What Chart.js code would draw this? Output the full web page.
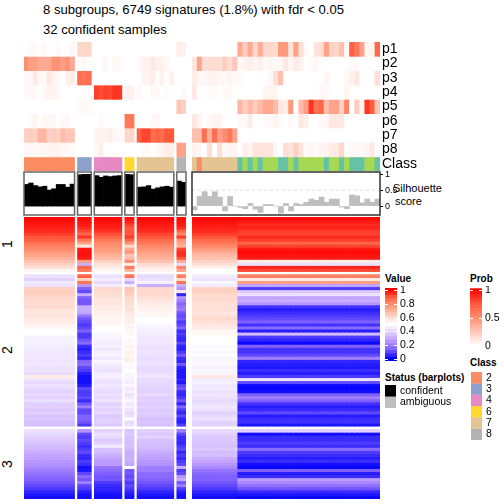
<!DOCTYPE html>
<html>
<head>
<meta charset="utf-8">
<script src="https://cdn.jsdelivr.net/npm/chart.js@4"></script>
<style>
  html, body { margin: 0; padding: 0; background: #fff; }
  body { width: 504px; height: 504px; position: relative; overflow: hidden; font-family: "Liberation Sans", sans-serif; color: #000; }
  canvas { position: absolute; }
  .txt { position: absolute; white-space: nowrap; line-height: 1; }
  .b { font-weight: bold; font-size: 10px; }
</style>
</head>
<body>
<div class="txt" style="left:43px;top:3px;font-size:13.1px">8 subgroups, 6749 signatures (1.8%) with fdr &lt; 0.05</div>
<div class="txt" style="left:43px;top:23px;font-size:13.1px">32 confident samples</div>
<div class="txt" style="left:393px;top:183px;font-size:11px">Silhouette</div>
<div class="txt" style="left:395px;top:196px;font-size:11px">score</div>
<div class="txt" style="left:3px;top:237px;font-size:14px;transform:rotate(-90deg)">1</div>
<div class="txt" style="left:3px;top:343px;font-size:14px;transform:rotate(-90deg)">2</div>
<div class="txt" style="left:3px;top:457px;font-size:14px;transform:rotate(-90deg)">3</div>
<div class="txt b" style="left:385px;top:274px">Value</div>
<div class="txt b" style="left:470px;top:274px">Prob</div>
<div class="txt b" style="left:470px;top:358px">Class</div>
<div class="txt b" style="left:385px;top:373px">Status (barplots)</div>
<script>
const rowLabels = ['p1','p2','p3','p4','p5','p6','p7','p8','Class'];

// confident samples, 32 columns
const confClass = [2,2,2,2,2,2,2,2,2,2,2, 3,3,3, 4,4,4,4,4,4, 6,6, 7,7,7,7,7,7,7,7, 8,8];
const p1Conf = [0,.03,.03,0,.03,0,0,.03,0,0,.03, .18,.18,.18, 0,0,0,0,0,0, 0,0, 0,0,0,0,0,0,0,0, .08,.06];
const p2Conf = [.5,.42,.42,.38,.38,.38,.48,.48,.42,.48,.38, 0,.03,0, 0,0,.04,0,.03,.03, 0,0, .03,.06,.06,.1,.06,.06,.03,0, 0,0];
const p3Conf = [.02,.03,.1,.02,.03,.1,.05,.03,0,.06,.08, .65,.62,.65, 0,0,0,0,0,0, 0,0, 0,.05,.05,.08,0,.06,0,.06, 0,0];
const p4Conf = [.02,.03,.03,0,.03,.05,.05,.03,0,0,0, 0,0,0, .82,.78,.82,.8,.85,.85, .06,.06, .02,0,0,.02,.02,0,.02,0, 0,.03];
const p5Conf = [0,0,0,0,0,0,0,0,0,0,0, .02,.02,.02, 0,0,0,0,0,0, 0,0, 0,0,0,0,0,0,0,0, .25,.2];
const p6Conf = [0,.02,.05,0,.03,.03,.03,0,.03,.03,0, 0,0,0, 0,.03,0,0,0,0, .6,.6, .02,0,0,.03,.03,0,0,0, 0,0];
const p7Conf = [.2,.22,.2,.32,.32,.2,.22,.2,.3,.25,.25, 0,0,0, .05,.05,.05,.08,.03,.03, .18,.18, .72,.8,.8,.65,.7,.65,.75,.75, 0,0];
const p8Conf = [.02,.03,.03,.03,.03,.05,.05,.05,.03,.03,.02, 0,0,0, .02,.08,0,0,0,0, 0,0, 0,.02,.02,0,.03,.05,.07,.07, .42,.4];
const silConf = [.675,.72,.64,.6,.62,.5,.54,.675,.675,.59,.685, .98,.99,.99, .95,.9,.94,.92,.94,.95, .99,.98, .59,.6,.64,.53,.57,.6,.62,.59, .78,.74];

// ambiguous samples, 37 columns (9 + 28)
const ambClass = [7,2,7,7,7,7,7,7,7, 1,5,1,5,1,5,5,5,1,1,5,1,5,5,5,5,5,1,5,5,1,5,1,1,1,5,5,1];
const p1Amb = [0,0,0,0,0,0,0,0,0, .38,.22,.38,.18,.36,.18,.18,.16,.45,.45,.12,.42,.14,.02,0,.12,.15,.42,.2,.18,.28,.03,.72,.6,.42,.04,.04,.68];
const p2Amb = [.1,.4,.15,.15,.15,.15,.22,.15,.24, .02,.05,.08,.05,.07,.02,.04,.03,.03,.1,.03,.09,.06,0,.03,.03,0,0,0,0,0,0,.02,.02,0,0,0,0];
const p3Amb = [.08,.03,.03,.05,.05,.03,.03,.05,.02, .02,0,0,0,0,0,.03,.14,.28,0,0,0,0,0,0,0,0,.04,0,0,0,.03,.06,.1,0,0,0,.14];
const p4Amb = [.1,0,0,.02,.02,0,.02,.02,0, 0,0,0,0,0,.04,.05,.04,0,0,0,0,0,0,0,0,.02,.03,0,0,0,.04,0,0,0,0,0,0];
const p5Amb = [0,0,0,0,0,0,0,0,0, .32,.22,.3,.22,.3,.38,.38,.3,.1,.08,.45,0,.3,.42,.85,.62,.68,.28,.4,.4,.2,.55,0,.22,.05,.85,.72,.25];
const p6Amb = [.1,.05,0,.03,.05,.05,0,0,0, .03,.02,.08,0,0,.02,.02,.05,.02,0,.03,0,.1,.07,0,0,.03,.03,.1,.1,.1,0,0,0,0,0,0,0];
const p7Amb = [.28,.28,.65,.35,.65,.42,.5,.6,.4, 0,0,0,0,0,0,0,0,0,0,0,0,0,0,0,0,0,0,0,0,0,0,0,0,0,0,0,0];
const p8Amb = [.06,.03,0,.15,0,.15,.02,.05,.05, 0,.08,.05,.12,.12,.12,.12,.03,0,.15,.12,.2,.12,.02,.05,.02,.04,.05,.08,.1,.17,.01,.03,.03,.03,.04,.1,0];
const silAmb = [-.12,.3,.45,.3,.45,.28,-.15,.3,0, -.04,-.08,.08,-.1,-.2,.05,.05,0,-.22,.08,-.15,.08,.05,.12,.22,.18,.28,.12,.22,.22,-.03,-.08,.35,.32,.1,.22,.12,.22];

const classColors = {1:'#66C2A5',2:'#FC8D62',3:'#8DA0CB',4:'#E78AC3',5:'#A6D854',6:'#FFD92F',7:'#E5C494',8:'#B3B3B3'};
const classLegend = [2,3,4,6,7,8];
const statusLegend = ['confident','ambiguous'];
const statusColors = ['#000000','#BEBEBE'];
const valueTicks = [0,.2,.4,.6,.8,1];
const probTicks = [0,.5,1];
const silTicks = [0,.5,1];
const legendLevels = [0,.05,.1,.15,.2,.25,.3,.35,.4,.45,.5,.55,.6,.65,.7,.75,.8,.85,.9,.95,1];

// heatmap: estimated rows per sample block, split in 3 row slices (18, 50, 23 rows)
const sliceRows = [18,50,23];
const heat2 = [.99,.98,.97,.96,.95,.93,.9,.89,.85,.82,.8,.76,.74,.7,.66,.62,.58,.52,
  .42,.38,.44,.42,.62,.63,.62,.6,.6,.58,
  .6,.57,.56,.57,.55,.55,.53,.52,.5,.5,
  .46,.47,.46,.45,.45,.44,.43,.44,.43,.44,
  .42,.42,.41,.55,.43,.4,.42,.4,.38,.4,
  .38,.42,.37,.38,.36,.38,.35,.36,.34,.34,
  .42,.4,.38,.36,.35,.33,.32,.3,.28,.27,.25,.24,.22,.2,.18,.16,.14,.12,.1,.08,.05,.03,.02];
const heat3 = [.99,.98,.97,.95,.92,.88,.94,.84,.74,.55,.97,.98,.98,.97,.75,.3,.88,.84,
  .88,.62,.85,.25,.14,.1,.3,.14,.12,.12,
  .3,.3,.28,.18,.12,.1,.08,.1,.14,.08,
  .08,.12,.16,.06,.04,.06,.08,.05,.14,.16,
  .1,.08,.04,.02,.02,.02,.04,.1,.08,.08,
  .1,.06,.12,.2,.1,.1,.14,.14,.12,.08,
  .25,.1,.08,.1,.08,.06,.08,.1,.06,.05,.08,.06,.02,.03,.1,.16,.12,.2,.1,.08,.04,.02,.02];
const heat4 = [.99,.98,.97,.96,.94,.91,.88,.84,.8,.78,.76,.74,.7,.68,.62,.58,.55,.52,
  .42,.45,.4,.45,.6,.6,.58,.58,.56,.57,
  .55,.55,.54,.53,.52,.53,.52,.5,.5,.48,
  .47,.46,.45,.46,.44,.46,.47,.44,.48,.45,
  .44,.42,.45,.46,.43,.42,.44,.42,.4,.42,
  .4,.43,.38,.4,.38,.4,.36,.37,.38,.36,
  .38,.42,.4,.36,.38,.45,.34,.33,.3,.28,.26,.26,.18,.16,.14,.12,.12,.08,.06,.05,.04,.02,.02];
const heat6 = [.98,.96,.93,.9,.9,.9,.93,.88,.78,.6,.72,.78,.65,.68,.8,.55,.84,.7,
  .85,.4,.3,.45,.65,.64,.62,.6,.6,.58,
  .57,.58,.56,.55,.54,.55,.52,.53,.52,.52,
  .5,.52,.51,.53,.52,.54,.52,.54,.53,.5,
  .48,.5,.48,.47,.46,.45,.48,.44,.46,.42,
  .45,.48,.44,.46,.43,.4,.42,.5,.4,.42,
  .35,.36,.34,.34,.33,.34,.32,.3,.3,.3,.3,.28,.5,.12,.12,.1,.12,.08,.1,.08,.05,.03,.02];
const heat7 = [.99,.98,.97,.96,.95,.92,.9,.87,.84,.8,.78,.75,.72,.7,.66,.6,.56,.53,
  .4,.42,.46,.3,.6,.6,.6,.58,.56,.55,
  .54,.53,.52,.52,.5,.5,.48,.46,.46,.45,
  .44,.44,.43,.42,.42,.43,.42,.41,.42,.42,
  .4,.4,.41,.43,.4,.4,.39,.38,.38,.4,
  .37,.38,.36,.38,.36,.37,.36,.34,.35,.34,
  .38,.36,.38,.34,.34,.33,.32,.3,.28,.27,.25,.24,.2,.2,.16,.16,.14,.12,.1,.08,.05,.03,.02];
const heat8 = [.99,.98,.97,.95,.88,.8,.93,.78,.74,.7,.92,.95,.95,.9,.72,.4,.82,.74,
  .82,.6,.85,.3,.25,.55,.05,.25,.2,.15,
  .18,.2,.12,.1,.12,.08,.1,.15,.06,.08,
  .06,.05,.1,.05,.04,.08,.12,.06,.05,.12,
  .05,.03,.03,.03,.05,.03,.1,.12,.06,.05,
  .08,.12,.05,.15,.08,.05,.1,.05,.04,.08,
  .2,.1,.06,.06,.05,.08,.1,.05,.08,.05,.08,.1,.3,.08,.1,.25,.3,.12,.2,.08,.04,.02,.02];
const heatLeft = [.99,.98,.97,.96,.95,.93,.9,.87,.84,.8,.76,.72,.68,.66,.62,.58,.54,.5,
  .45,.42,.48,.45,.62,.62,.6,.6,.6,.58,
  .58,.58,.56,.58,.6,.58,.56,.55,.52,.52,
  .5,.5,.5,.48,.5,.48,.5,.47,.48,.48,
  .46,.48,.47,.56,.45,.46,.44,.45,.42,.44,
  .42,.4,.42,.44,.42,.38,.4,.42,.38,.38,
  .4,.38,.36,.36,.35,.34,.36,.33,.34,.3,.28,.25,.22,.18,.16,.14,.14,.12,.1,.08,.05,.03,.02];
const heatRight = [.99,.97,.95,.96,.93,.92,.95,.93,.88,.92,.97,.99,.98,.97,.55,.42,.96,.92,
  .82,.55,.75,.28,.08,.36,.42,.28,.3,.25,
  .07,.04,.06,.08,.1,.14,.07,.16,.04,.33,
  .08,.05,.01,.14,.07,.07,.1,.2,.05,.04,
  .03,.06,.04,.08,.42,.1,.01,.01,.02,.14,
  .2,.14,.07,.04,.06,.1,.04,.06,.07,.03,
  .38,.02,.06,.06,.08,.06,.16,.08,.06,.04,.06,.02,.01,.14,.04,.06,.26,.22,.17,.12,.06,.03,.01];
const heatByClass = {2:heat2,3:heat3,4:heat4,6:heat6,7:heat7,8:heat8};
const ambLeftCols = 9;

// colour ramps, stops
const probStops = [[0,[255,255,255]],[.25,[255,198,182]],[.5,[255,142,112]],[.75,[255,88,58]],[1,[255,0,0]]];
const valueStops = [[0,[0,0,255]],[.125,[120,90,255]],[.25,[184,150,255]],[.375,[226,208,255]],[.5,[255,255,255]],
  [.625,[255,207,192]],[.75,[255,158,129]],[.875,[255,106,74]],[1,[255,0,0]]];

function ramp(stops, v) {
  for (let i = 1; i < stops.length; i++) {
    if (v <= stops[i][0]) {
      const a = stops[i-1], b = stops[i], t = (v - a[0]) / (b[0] - a[0]);
      const c = a[1].map((n, k) => Math.round(n + (b[1][k] - n) * t));
      return 'rgb(' + c.join(',') + ')';
    }
  }
  return 'rgb(' + stops[stops.length-1][1].join(',') + ')';
}

// x position of each confident column, with a small gap between the classes
const classGap = 0.65;
const confX = [];
confClass.forEach((c, i) => {
  const prev = i ? confX[i-1] : -1;
  confX.push(prev + 1 + (i && c !== confClass[i-1] ? classGap : 0));
});
const ambX = ambClass.map((c, i) => i);

const font = s => ({family: '"Liberation Sans", sans-serif', size: s});

function addChart(area, right, config) {
  const pad = 2;
  const c = document.createElement('canvas');
  c.width = area.w + pad * 2 + right;
  c.height = area.h + pad * 2;
  c.style.left = (area.x - pad) + 'px';
  c.style.top = (area.y - pad) + 'px';
  document.body.appendChild(c);
  config.options = Object.assign({
    responsive: false,
    animation: false,
    events: [],
    layout: {padding: pad},
    plugins: {legend: {display: false}, tooltip: {enabled: false}}
  }, config.options);
  return new Chart(c.getContext('2d'), config);
}

function xAxis(xs) {
  return {type: 'linear', display: false, offset: false, min: xs[0] - .5, max: xs[xs.length-1] + .5};
}

// y axis with labels on the right side, fixed width so the plot area stays put
function rightAxis(min, max, reverse, width, tickList, labels, size, pad, marks) {
  return {
    type: 'linear', position: 'right', min, max, reverse,
    border: {display: false},
    grid: {display: marks, drawOnChartArea: false, drawTicks: marks, tickLength: 3, color: '#000'},
    ticks: {autoSkip: false, font: font(size), color: '#000', padding: pad, callback: (v, i) => labels[i]},
    afterBuildTicks: s => { s.ticks = tickList.map(v => ({value: v})); },
    afterFit: s => { s.width = width; s.paddingTop = 0; s.paddingBottom = 0; }
  };
}

function bandSets(xs, bands) {
  // one dataset per horizontal band, floating bars from row to row+1
  return bands.map(b => ({
    data: xs.map(x => ({x, y: [b.y0, b.y1]})),
    backgroundColor: b.colors,
    grouped: false, barPercentage: 1, categoryPercentage: 1
  }));
}

function annotBands(rows, cls) {
  const bands = rows.map((r, i) => ({y0: i, y1: i + 1, colors: r.map(v => ramp(probStops, v))}));
  bands.push({y0: 8.06, y1: 9, colors: cls.map(c => classColors[c])});
  return bands;
}

function heatBands(colRows) {
  const bands = [];
  let y = 0, n = 0;
  sliceRows.forEach(count => {
    for (let r = 0; r < count; r++, n++) {
      bands.push({y0: y + r, y1: y + r + 1, colors: colRows.map(col => ramp(valueStops, col[n]))});
    }
    y += count + 1;
  });
  return bands;
}
const heatUnits = sliceRows.reduce((a, b) => a + b, 0) + sliceRows.length - 1;

// annotation rows
const annotTicks = rowLabels.map((l, i) => i + .5);
addChart({x: 24, y: 42, w: 162, h: 129}, 0, {
  type: 'bar',
  data: {datasets: bandSets(confX, annotBands([p1Conf,p2Conf,p3Conf,p4Conf,p5Conf,p6Conf,p7Conf,p8Conf], confClass))},
  options: {scales: {x: xAxis(confX), y: {type: 'linear', display: false, min: 0, max: 9, reverse: true}}}
});
addChart({x: 192, y: 42, w: 188, h: 129}, 50, {
  type: 'bar',
  data: {datasets: bandSets(ambX, annotBands([p1Amb,p2Amb,p3Amb,p4Amb,p5Amb,p6Amb,p7Amb,p8Amb], ambClass))},
  options: {scales: {x: xAxis(ambX), y: rightAxis(0, 9, true, 50, annotTicks, rowLabels, 14, 2, false)}}
});

// silhouette frames, one per class for the confident samples
const framePlugin = {
  id: 'frames',
  afterDatasetsDraw(chart, args, opts) {
    const {ctx, chartArea: a, scales: {x}} = chart;
    ctx.save();
    ctx.strokeStyle = opts.color;
    ctx.lineWidth = 1.5;
    opts.ranges.forEach(r => {
      const l = x.getPixelForValue(r[0] - .5), h = x.getPixelForValue(r[1] + .5);
      ctx.strokeRect(l, a.top, h - l, a.bottom - a.top);
    });
    ctx.restore();
  }
};
const confRanges = [];
confClass.forEach((c, i) => {
  if (i && c === confClass[i-1]) confRanges[confRanges.length-1][1] = confX[i];
  else confRanges.push([confX[i], confX[i]]);
});
const silMin = -.278, silMax = 1.063;
addChart({x: 24, y: 172, w: 162, h: 43}, 0, {
  type: 'bar',
  data: {datasets: [{data: confX.map((x, i) => ({x, y: silConf[i]})), backgroundColor: '#000', barPercentage: 1, categoryPercentage: 1}]},
  options: {
    scales: {x: xAxis(confX), y: {type: 'linear', display: false, min: silMin, max: silMax}},
    plugins: {legend: {display: false}, tooltip: {enabled: false}, frames: {color: '#666', ranges: confRanges}}
  },
  plugins: [framePlugin]
});
addChart({x: 192, y: 172, w: 188, h: 43}, 30, {
  type: 'bar',
  data: {datasets: [
    {data: ambX.map((x, i) => ({x, y: silAmb[i]})), backgroundColor: '#BEBEBE', barPercentage: 1, categoryPercentage: 1},
    {type: 'line', data: [{x: ambX[0] - .5, y: .5}, {x: ambX[ambX.length-1] + .5, y: .5}], borderColor: '#DDD', borderWidth: 1, borderDash: [3,3], pointRadius: 0}
  ]},
  options: {
    scales: {x: xAxis(ambX), y: rightAxis(silMin, silMax, false, 30, silTicks, silTicks.map(String), 9, 2, true)},
    plugins: {legend: {display: false}, tooltip: {enabled: false}, frames: {color: '#333', ranges: [[ambX[0], ambX[ambX.length-1]]]}}
  },
  plugins: [framePlugin]
});

// main heatmap
addChart({x: 24, y: 217, w: 162, h: 282}, 0, {
  type: 'bar',
  data: {datasets: bandSets(confX, heatBands(confClass.map(c => heatByClass[c])))},
  options: {scales: {x: xAxis(confX), y: {type: 'linear', display: false, min: 0, max: heatUnits, reverse: true}}}
});
addChart({x: 192, y: 217, w: 188, h: 282}, 0, {
  type: 'bar',
  data: {datasets: bandSets(ambX, heatBands(ambX.map(i => i < ambLeftCols ? heatLeft : heatRight)))},
  options: {scales: {x: xAxis(ambX), y: {type: 'linear', display: false, min: 0, max: heatUnits, reverse: true}}}
});

// colour legends
const dashPlugin = {
  id: 'dashes',
  afterDatasetsDraw(chart) {
    const {ctx, chartArea: a, scales: {y}} = chart;
    ctx.save();
    ctx.strokeStyle = '#fff';
    y.ticks.forEach(t => {
      const p = Math.round(y.getPixelForValue(t.value)) + .5;
      ctx.beginPath();
      ctx.moveTo(a.left, p); ctx.lineTo(a.left + 3, p);
      ctx.moveTo(a.right - 3, p); ctx.lineTo(a.right, p);
      ctx.stroke();
    });
    ctx.restore();
  }
};
function colorBar(area, stops, min, max, tickList, labels) {
  const step = legendLevels[1] - legendLevels[0];
  addChart(area, 34, {
    type: 'bar',
    data: {datasets: legendLevels.map(v => ({
      data: [{x: 0, y: [Math.max(v - step / 2, min), Math.min(v + step / 2, max)]}],
      backgroundColor: ramp(stops, v),
      grouped: false, barPercentage: 1, categoryPercentage: 1
    }))},
    options: {scales: {
      x: {type: 'linear', display: false, offset: false, min: -.5, max: .5},
      y: rightAxis(min, max, false, 34, tickList, labels, 10.5, 3, false)
    }},
    plugins: [dashPlugin]
  });
}
colorBar({x: 385, y: 288, w: 12, h: 73}, valueStops, -.03, 1.03, valueTicks, valueTicks.map(String));
colorBar({x: 470, y: 288, w: 12, h: 59}, probStops, -.02, 1.036, probTicks, probTicks.map(String));

// swatch legends
function swatches(area, labels, colors, right) {
  const ticks = labels.map((l, i) => i + .5);
  addChart(area, right, {
    type: 'bar',
    data: {datasets: labels.map((l, i) => ({
      data: [{x: 0, y: [i + .02, i + .98]}],
      backgroundColor: colors[i],
      grouped: false, barPercentage: 1, categoryPercentage: 1
    }))},
    options: {scales: {
      x: {type: 'linear', display: false, offset: false, min: -.5, max: .5},
      y: rightAxis(0, labels.length, true, right, ticks, labels.map(String), 10.5, 4, false)
    }}
  });
}
swatches({x: 471, y: 372, w: 11, h: 68}, classLegend, classLegend.map(c => classColors[c]), 22);
swatches({x: 385, y: 385, w: 11, h: 23}, statusLegend, statusColors, 80);
</script>
</body>
</html>
